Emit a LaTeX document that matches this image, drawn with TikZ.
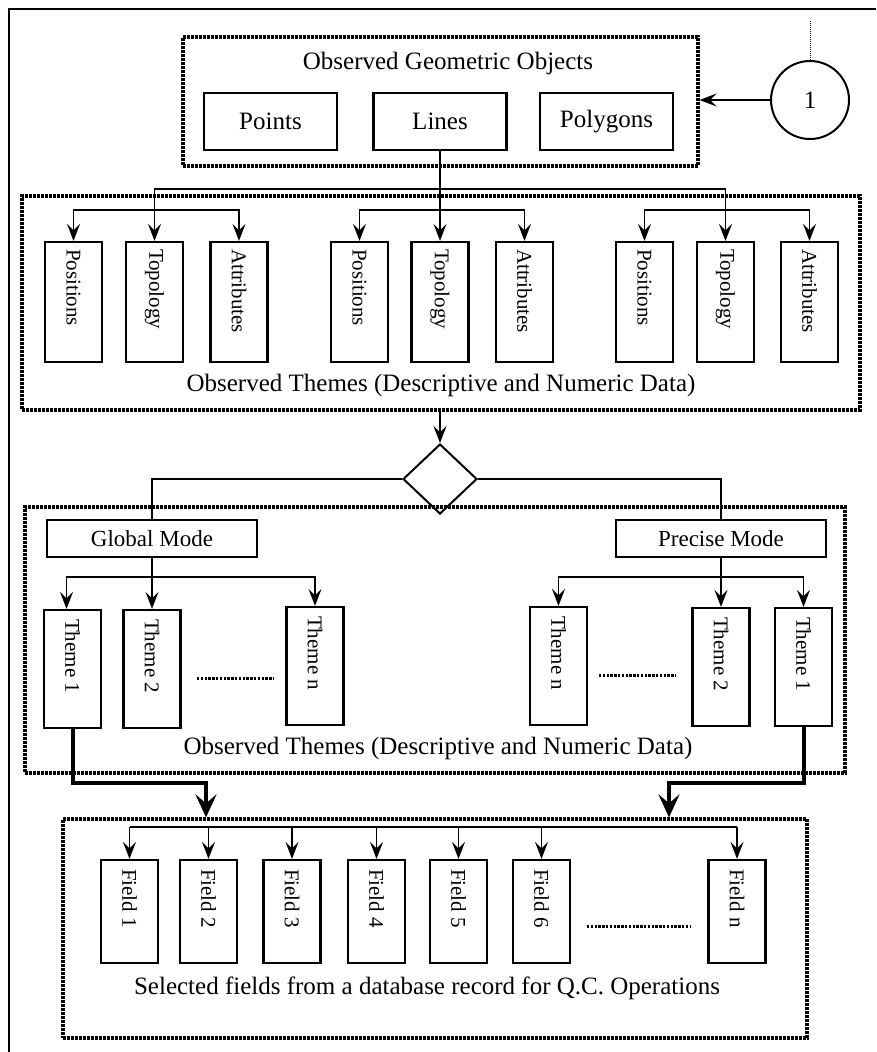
\documentclass[tikz,border=0pt]{standalone}
\usepackage{fontspec}
\setmainfont{Liberation Serif}
\usetikzlibrary{arrows.meta,shapes.geometric}
\begin{document}
\begin{tikzpicture}[x=1pt,y=-1pt,
  box/.style={draw, line width=2.2pt, inner sep=0pt, font=\fontsize{25}{30}\selectfont},
  hbox/.style={box, minimum width=133pt, minimum height=57pt},
  modebox/.style={draw, line width=2.2pt, inner sep=0pt, minimum width=210pt, minimum height=37pt, font=\fontsize{23}{28}\selectfont},
  vbox/.style={draw, line width=2.2pt, minimum width=57pt, inner sep=0pt},
  vtxt/.style={rotate=-90, anchor=west, inner sep=0pt, font=\fontsize{21}{24}\selectfont},
  dotbox/.style={draw, line width=3.2pt, dash pattern=on 2.6pt off 1.4pt, inner sep=0pt},
  dotrow/.style={line width=3pt, dash pattern=on 2.4pt off 1.4pt},
  lbl/.style={font=\fontsize{25}{30}\selectfont, inner sep=0pt},
  wire/.style={line width=1.8pt},
  conn/.style={line width=1.8pt, -{Stealth[length=17pt,width=13pt,inset=6.5pt]}},
  bigconn/.style={line width=4pt, -{Stealth[length=23pt,width=21pt,inset=9pt]}}
]
\useasboundingbox (0,0) rectangle (876,1052);

% outer frame (top and left edges)
\coordinate (fr0) at (9,1052);
\coordinate (fr1) at (9,9);
\coordinate (fr2) at (876,9);
\draw[line width=1.8pt] (fr0) -- (fr1) -- (fr2);

% ---------- top group ----------
\node[dotbox, minimum width=515pt, minimum height=129pt] (geo) at (440.5,101.5) {};
\node[lbl] (geot) at (448,63) {Observed Geometric Objects};
\node[hbox] (pts) at (270.5,121.5) {Points};
\node[hbox] (lin) at (440,121.5) {Lines};
\node[hbox] (pol) at (606.5,121.5) {Polygons};

\node[draw, circle, line width=2pt, minimum size=78pt, inner sep=0pt, font=\fontsize{25}{30}\selectfont] (c1) at (810,100) {1};
\coordinate (ctop) at (810,20);
\draw[line width=0.8pt, dash pattern=on 1pt off 1pt] (c1.north) -- (ctop);
\draw[conn] (c1.west) -- (c1.west -| geo.east);

% ---------- themes group ----------
\node[dotbox, minimum width=838pt, minimum height=214pt] (thm) at (441,303) {};
\node[lbl] (thmt) at (441,385) {Observed Themes (Descriptive and Numeric Data)};

\foreach \n/\x/\t in {p1/73.5/Positions, t1/154.5/Topology, a1/239/Attributes,
                      p2/359.5/Positions, t2/440/Topology, a2/524.5/Attributes,
                      p3/644.5/Positions, t3/725.5/Topology, a3/809.5/Attributes}{
  \node[vbox, minimum height=120pt] (\n) at (\x,302) {};
  \node[vtxt] (\n t) at ([yshift=-8pt]\n.north) {\t};
}

\coordinate (b0) at (440,189);
\coordinate (s1) at (154.5,210);
\coordinate (s2) at (440,210);
\coordinate (s3) at (725.5,210);
\draw[conn] (lin.south) -- (t2.north);
\draw[conn] (b0) -| (t1.north);
\draw[conn] (b0) -| (t3.north);
\draw[conn] (s1) -| (p1.north);
\draw[conn] (s1) -| (a1.north);
\draw[conn] (s2) -| (p2.north);
\draw[conn] (s2) -| (a2.north);
\draw[conn] (s3) -| (p3.north);
\draw[conn] (s3) -| (a3.north);

% ---------- decision ----------
\node[diamond, draw, line width=2pt, minimum width=74pt, minimum height=70pt, inner sep=0pt] (dia) at (440,479) {};
\draw[conn] (dia.north |- thm.south) -- (dia.north);

% ---------- modes group ----------
\node[dotbox, minimum width=820pt, minimum height=266pt] (mds) at (435,640) {};
\node[modebox] (gm) at (152,538.5) {Global Mode};
\node[modebox] (pm) at (721,538.5) {Precise Mode};
\draw[wire] (dia.west) -| (gm.north);
\draw[wire] (dia.east) -| (pm.north);

\foreach \n/\x/\y/\t in {th1/72.5/669/Theme 1, th2/152/669/Theme 2, thn/315/666/Theme n,
                         rthn/558.5/666/Theme n, rth2/721/667/Theme 2, rth1/803.5/667/Theme 1}{
  \node[vbox, minimum height=118pt] (\n) at (\x,\y) {};
  \node[vtxt] (\n t) at ([yshift=-10pt]\n.north) {\t};
}
\coordinate (g0) at (152,577);
\coordinate (r0) at (721,577);
\draw[conn] (gm.south) -- (th2.north);
\draw[conn] (g0) -| ([xshift=-6pt]th1.north);
\draw[conn] (g0) -| (thn.north);
\draw[conn] (pm.south) -- (rth2.north);
\draw[conn] (r0) -| (rthn.north);
\draw[conn] (r0) -| (rth1.north);

\coordinate (d1a) at (197,678);
\coordinate (d1b) at (274,678);
\coordinate (d2a) at (599,675);
\coordinate (d2b) at (676,675);
\draw[dotrow] (d1a) -- (d1b);
\draw[dotrow] (d2a) -- (d2b);

\node[lbl] (mdst) at (438,748) {Observed Themes (Descriptive and Numeric Data)};

% ---------- fields group ----------
\node[dotbox, minimum width=744pt, minimum height=219pt] (fld) at (435,928.5) {};

\coordinate (j1) at (206,783);
\coordinate (j2) at (669,783);
\draw[bigconn] (th1.south) |- (j1) -- (j1 |- fld.north);
\draw[bigconn] (rth1.south) |- (j2) -- (j2 |- fld.north);

\foreach \n/\x/\t in {f1/129.5/Field 1, f2/208.5/Field 2, f3/292/Field 3, f4/376.5/Field 4,
                      f5/458.5/Field 5, f6/541.5/Field 6, fn/737/Field n}{
  \node[vbox, minimum height=103pt] (\n) at (\x,911.5) {};
  \node[vtxt] (\n t) at ([yshift=-10pt]\n.north) {\t};
}
\coordinate (fb) at (0,827);
\draw[wire] (f1.north |- fb) -- (fn.north |- fb);
\foreach \n in {f1,f2,f3,f4,f5,f6,fn}{
  \draw[conn] (\n.north |- fb) -- (\n.north);
}
\coordinate (d3a) at (587,926);
\coordinate (d3b) at (691,926);
\draw[dotrow] (d3a) -- (d3b);

\node[lbl] (fldt) at (427,988) {Selected fields from a database record for Q.C. Operations};
\end{tikzpicture}
\end{document}
